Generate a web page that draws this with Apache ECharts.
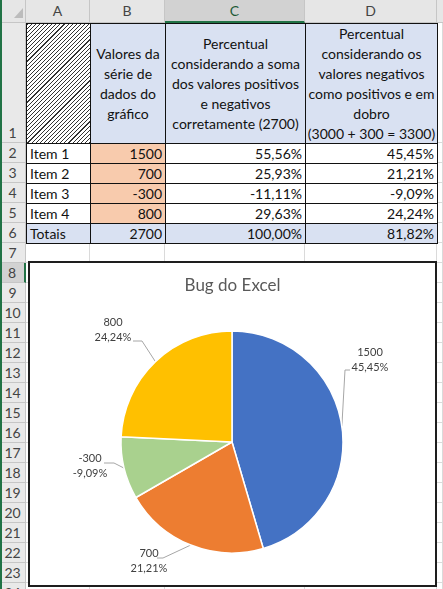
<!DOCTYPE html>
<html><head><meta charset="utf-8">
<script src="https://cdn.jsdelivr.net/npm/echarts@6/dist/echarts.min.js"></script>
<style>
html,body{margin:0;padding:0;width:443px;height:589px;overflow:hidden;background:#fff;font-family:Lato,"Noto Sans",sans-serif;}
#sheet{position:absolute;left:0;top:0;width:443px;height:589px;}
.c{position:absolute;box-sizing:border-box;font-size:14px;color:#111;white-space:nowrap;overflow:hidden;}
#chartBox{position:absolute;left:28px;top:261px;width:405px;height:322px;border:2px solid #1e1e1e;background:#fff;}
#chart{position:absolute;left:0;top:0;width:405px;height:322px;}
</style>
</head><body>
<div id="sheet"></div>
<div id="chartBox"><div id="chart"></div></div>
<script>
// ---- data ----
const colLetters = ['A','B','C','D'];
const headerB = ['Valores da','série de','dados do','gráfico'];
const headerC = ['Percentual','considerando a soma','dos valores positivos','e negativos','corretamente (2700)'];
const headerD = ['Percentual','considerando os','valores negativos','como positivos e em','dobro','(3000 + 300 = 3300)'];
const items = ['Item 1','Item 2','Item 3','Item 4'];
const values = [1500, 700, -300, 800];
const pctSum = ['55,56%','25,93%','-11,11%','29,63%'];
const pctAbs = ['45,45%','21,21%','-9,09%','24,24%'];
const totals = ['Totais','2700','100,00%','81,82%'];
const chartTitle = 'Bug do Excel';
const sliceColors = ['#4472C4','#ED7D31','#A9D18E','#FFC000'];

// ---- sheet geometry ----
const colX = [0,26,90,165,305,437,443];
const hdrH = 23, row1Bottom = 143, rowH = 20, lastRow = 24;
function rowTop(r){ return r===1 ? hdrH : row1Bottom + (r-2)*rowH; }
function rowBot(r){ return r===1 ? row1Bottom : rowTop(r)+rowH; }

const sheet = document.getElementById('sheet');
function box(x,y,w,h,css,html){
  const d=document.createElement('div'); d.className='c';
  d.style.left=x+'px'; d.style.top=y+'px'; d.style.width=w+'px'; d.style.height=h+'px';
  if(css) d.style.cssText+=css; if(html!==undefined) d.innerHTML=html;
  sheet.appendChild(d); return d;
}
function line(x,y,w,h,color){ box(x,y,w,h,'background:'+color+';'); }

// grid lines (light)
for(let r=7;r<=lastRow;r++){ line(26, rowBot(r)-1, 417, 1, '#dadada'); }
for(let i=1;i<colX.length-1;i++){ line(colX[i]-1, rowTop(7), 1, 589-rowTop(7), '#dadada'); }
for(let r=1;r<=lastRow;r++){ line(437, rowBot(r)-1, 6, 1, '#dadada'); }
line(442, 0, 1, 589, '#dadada');

// column header
box(0,0,443,hdrH,'background:#e6e6e6;border-bottom:1px solid #c6c6c6;');
for(let i=0;i<colLetters.length;i++){
  const sel = i===2;
  box(colX[i+1], 0, colX[i+2]-colX[i+1], hdrH,
    'background:'+(sel?'#d2d2d2':'#e6e6e6')+';border-right:1px solid #c6c6c6;'+(sel?'border-bottom:2px solid #217346;color:#1d5a37;':'border-bottom:1px solid #c6c6c6;color:#444;')+'text-align:center;line-height:'+(hdrH-1)+'px;font-size:14px;', colLetters[i]);
}
box(colX[5], 0, 6, hdrH, 'background:#e6e6e6;border-bottom:1px solid #c6c6c6;');
// select-all triangle
box(14,8,0,0,'width:0;height:0;border-left:9px solid transparent;border-bottom:10px solid #bcbcbc;overflow:visible;');
box(0,0,26,hdrH,'border-right:1px solid #c6c6c6;background:transparent;');

// row headers
for(let r=1;r<=lastRow;r++){
  const sel = r===8;
  const t=rowTop(r), h=rowBot(r)-t;
  box(0, t, 26, h, 'background:'+(sel?'#d2d2d2':'#e9e9e9')+';border-bottom:1px solid #c6c6c6;'+(sel?'border-right:2px solid #217346;':'border-right:1px solid #c6c6c6;')+'color:#444;text-align:center;font-size:14px;'+(r===1?'line-height:14px;padding-top:'+(h-17)+'px;':'line-height:'+(h-1)+'px;'), String(r));
}
line(0,0,2,589,'#217346');

// table cells
function cell(col,row,html,css){
  const x=colX[col+1], y=rowTop(row);
  box(x, y, colX[col+2]-x+1, rowBot(row)-y+1, 'border:1px solid #111;'+(css||''), html);
}
const vMid = 'display:flex;flex-direction:column;justify-content:center;align-items:center;text-align:center;line-height:20px;';
cell(0,1,'', 'background:repeating-linear-gradient(135deg,#333 0 0.8px,#ffffff 0.8px 2.9px);');
cell(1,1, headerB.join('<br>'), 'background:#D9E1F2;'+vMid);
cell(2,1, headerC.join('<br>'), 'background:#D9E1F2;'+vMid);
cell(3,1, headerD.join('<br>'), 'background:#D9E1F2;'+vMid);
const rc = 'line-height:19px;padding:0 3px;';
for(let i=0;i<items.length;i++){
  const r=i+2;
  cell(0,r, items[i], rc+'text-align:left;');
  cell(1,r, String(values[i]), rc+'text-align:right;background:#F8CBAD;');
  cell(2,r, pctSum[i], rc+'text-align:right;');
  cell(3,r, pctAbs[i], rc+'text-align:right;');
}
cell(0,6, totals[0], rc+'text-align:left;background:#D9E1F2;');
for(let j=1;j<4;j++) cell(j,6, totals[j], rc+'text-align:right;background:#D9E1F2;');

// ---- pie chart ----
const sumAbs = values.reduce((a,v)=>a+Math.abs(v),0);
// label placement (chart pixel coords): text centre, bend, end of leader line
const labelSpots = [
  {x:340, y:97,  bend:[315,107], end:[320,107]},
  {x:119, y:298, bend:[133,295], end:[127,295]},
  {x:60,  y:203, bend:[84,200],  end:[74,200]},
  {x:83,  y:67,  bend:[112,78],  end:[103,78]}
];
const chart = echarts.init(document.getElementById('chart'), null, {renderer:'canvas'});
chart.setOption({
  animation:false,
  title:{text:chartTitle, left:'center', top:9, textStyle:{fontFamily:'Lato', fontSize:17, fontWeight:'normal', color:'#595959'}},
  series:[{
    type:'pie', center:[202,179], radius:111, startAngle:90, clockwise:true,
    silent:true,
    itemStyle:{borderColor:'#ffffff', borderWidth:1.5},
    label:{show:true, position:'outside', color:'#404040', fontFamily:'Lato', fontSize:11, lineHeight:15,
      formatter:function(p){ const raw=values[p.dataIndex]; const pc=Math.round(raw/sumAbs*10000)/100; return raw+'\n'+pc.toFixed(2).replace('.',',')+'%'; }},
    labelLine:{show:true, length:10, length2:10, lineStyle:{color:'#a6a6a6', width:1}},
    labelLayout:function(p){
      const s=labelSpots[p.dataIndex];
      return {x:s.x, y:s.y, align:'center', verticalAlign:'middle', labelLinePoints:[p.labelLinePoints[0], s.bend, s.end]};
    },
    data: values.map((v,i)=>({name:items[i], value:Math.abs(v), itemStyle:{color:sliceColors[i]}}))
  }]
});
</script>
</body></html>
